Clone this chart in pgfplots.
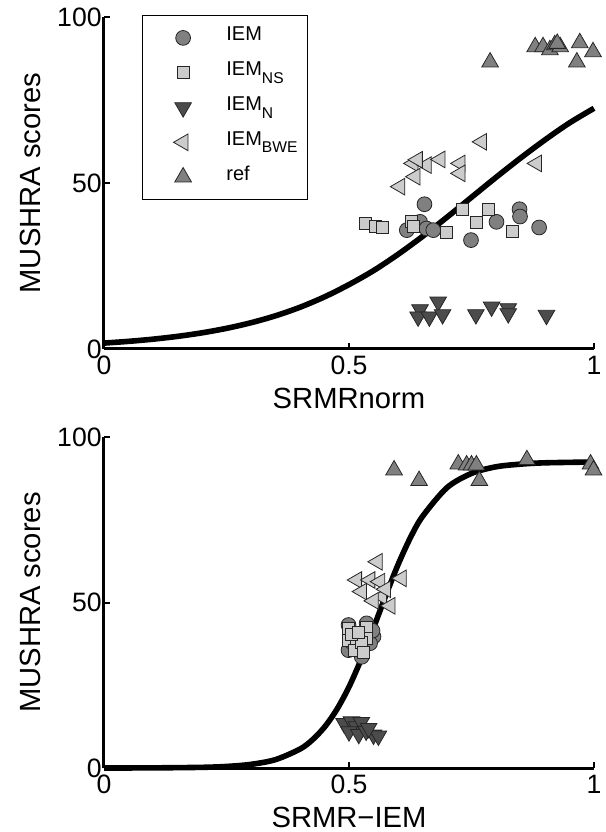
\documentclass[border=0pt]{standalone}
\usepackage{fontspec}
\setmainfont{Liberation Sans}
\usepackage{pgfplots}
\pgfplotsset{compat=1.18}
\definecolor{MidGray}{gray}{0.5}
\definecolor{LightGray}{gray}{0.8}
\definecolor{DarkGray}{gray}{0.3}
\definecolor{EdgeGray}{gray}{0.15}

% MATLAB-like subscript: smaller and well below the baseline
\newcommand{\sub}[1]{\raisebox{-3.8pt}{\fontsize{7.8}{8}\selectfont #1}}

\pgfplotsset{
  mushra/.style={
    scale only axis, width=245pt,
    xmin=0, xmax=1, ymin=0, ymax=100,
    axis x line*=bottom, axis y line*=left,
    axis line style={line width=1.5pt, -},
    xtick={0,0.5,1}, ytick={0,50,100},
    tick align=inside, major tick length=3pt,
    tick style={line width=1pt, black},
    tick label style={font=\fontsize{13.3}{14}\selectfont},
    yticklabel style={inner sep=1pt},
    label style={font=\fontsize{14.6}{16}\selectfont},
    /pgf/number format/assume math mode=true,
    ylabel={MUSHRA scores},
    ylabel style={at={(axis description cs:-0.151,0.5)}, anchor=center},
    xlabel style={at={(axis description cs:0.5,-0.148)}, anchor=center},
    clip=false,
  },
  iem/.style={only marks, EdgeGray, mark=*, mark size=3.7pt,
    mark options={fill=MidGray, line width=0.4pt}},
  ns/.style={only marks, EdgeGray, mark=square*, mark size=3pt,
    mark options={fill=LightGray, line width=0.4pt}},
  nn/.style={only marks, EdgeGray, mark=triangle*, mark size=4.8pt,
    mark options={fill=DarkGray, rotate=180, line width=0.4pt}},
  bwe/.style={only marks, EdgeGray, mark=triangle*, mark size=4.8pt,
    mark options={fill=LightGray, rotate=90, line width=0.4pt}},
  refm/.style={only marks, EdgeGray, mark=triangle*, mark size=4.8pt,
    mark options={fill=MidGray, line width=0.4pt}},
  fitline/.style={black, line width=2.8pt, smooth, forget plot},
}

\begin{document}
\begin{tikzpicture}
\useasboundingbox (0,0) rectangle (303pt,416pt);

% ---- top: SRMRnorm
\begin{axis}[mushra, height=166pt,
  at={(52pt,241.5pt)}, anchor=south west,
  xlabel={SRMRnorm},
  legend style={at={(axis description cs:0.0776,1.006)}, anchor=north west,
    draw=black, line width=0.5pt, font=\fontsize{10}{11}\selectfont,
    inner xsep=15.5pt, inner ysep=2.5pt, row sep=0pt, column sep=16.5pt,
    nodes={font=\fontsize{10}{11}\selectfont, text width=24pt, align=left,
      text height=7pt, text depth=4pt, inner xsep=1pt, inner ysep=3.2pt}},
  legend cell align=left,
]
\addplot[iem] coordinates {
(0.654,43.6) (0.618,35.8) (0.645,38.3) (0.658,36.3) (0.672,35.8)
(0.749,32.8) (0.801,38.3) (0.848,42.1) (0.849,39.9) (0.888,36.6)};
\addlegendentry{IEM}
\addplot[ns] coordinates {
(0.533,37.8) (0.553,37.0) (0.569,36.6) (0.628,38.3) (0.631,36.8)
(0.698,35.0) (0.731,42.1) (0.759,38.1) (0.784,42.1) (0.833,35.5)};
\addlegendentry{IEM\sub{NS}}
\addplot[nn] coordinates {
(0.682,14.2) (0.645,11.9) (0.641,9.7) (0.664,9.7) (0.691,10.4)
(0.759,10.4) (0.791,12.7) (0.825,12.2) (0.825,10.7) (0.903,10.2)};
\addlegendentry{IEM\sub{N}}
\addplot[bwe] coordinates {
(0.631,55.9) (0.658,55.4) (0.686,57.1) (0.727,55.9) (0.727,52.9)
(0.635,51.9) (0.604,48.9) (0.883,55.9) (0.771,62.4) (0.640,57.0)};
\addlegendentry{IEM\sub{BWE}}
\addplot[refm] coordinates {
(0.788,86.4) (0.880,91.0) (0.896,91.0) (0.910,90.1) (0.920,91.6)
(0.931,91.0) (0.971,92.2) (0.998,89.5) (0.965,86.4) (0.925,92.0)};
\addlegendentry{ref}
\addplot[fitline] coordinates {
(0,1.78) (0.05,2.30) (0.1,2.96) (0.15,3.80) (0.2,4.87) (0.25,6.22)
(0.3,7.91) (0.35,10.0) (0.4,12.57) (0.45,15.7) (0.5,19.4) (0.55,23.6)
(0.6,28.5) (0.65,33.9) (0.7,39.7) (0.75,45.7) (0.8,51.7) (0.85,57.5)
(0.9,63.0) (0.95,68.1) (1.0,72.5)};
\end{axis}

% ---- bottom: SRMR-IEM
\begin{axis}[mushra, height=165.5pt,
  at={(52pt,32pt)}, anchor=south west,
  xlabel={SRMR−IEM},
]
\addplot[iem] coordinates {
(0.499,43.2) (0.536,43.7) (0.550,39.7) (0.499,35.6) (0.526,33.6)
(0.543,37.7) (0.506,38.0) (0.520,36.0) (0.548,41.5) (0.510,40.5)};
\addplot[ns] coordinates {
(0.499,42.2) (0.536,42.5) (0.499,38.7) (0.516,36.6) (0.512,35.6)
(0.536,39.2) (0.525,38.0) (0.505,40.5) (0.530,35.0) (0.520,41.0)};
\addplot[nn] coordinates {
(0.490,13.5) (0.505,14.0) (0.515,12.5) (0.525,13.8) (0.500,11.0)
(0.520,10.2) (0.535,11.2) (0.550,10.0) (0.560,9.7) (0.540,12.0)};
\addplot[bwe] coordinates {
(0.558,62.3) (0.516,56.8) (0.543,56.8) (0.563,56.3) (0.607,57.3)
(0.526,53.3) (0.567,51.8) (0.584,49.0) (0.575,54.0) (0.550,50.5)};
\addplot[refm] coordinates {
(0.592,90.0) (0.643,86.8) (0.723,91.8) (0.740,91.5) (0.750,91.5)
(0.760,91.5) (0.766,86.8) (0.863,93.1) (0.993,91.8) (0.999,90.0)};
\addplot[fitline] coordinates {
(0,0.0) (0.1,0.04) (0.2,0.20) (0.25,0.47) (0.3,1.10) (0.35,2.53)
(0.4,5.72) (0.425,8.47) (0.45,12.35) (0.475,17.65) (0.5,24.5)
(0.525,32.9) (0.55,42.3) (0.575,52.1) (0.6,61.4) (0.625,69.5)
(0.65,76.0) (0.7,84.7) (0.75,89.0) (0.8,91.0) (0.85,91.8) (0.9,92.2)
(1.0,92.45)};
\end{axis}
\end{tikzpicture}
\end{document}
